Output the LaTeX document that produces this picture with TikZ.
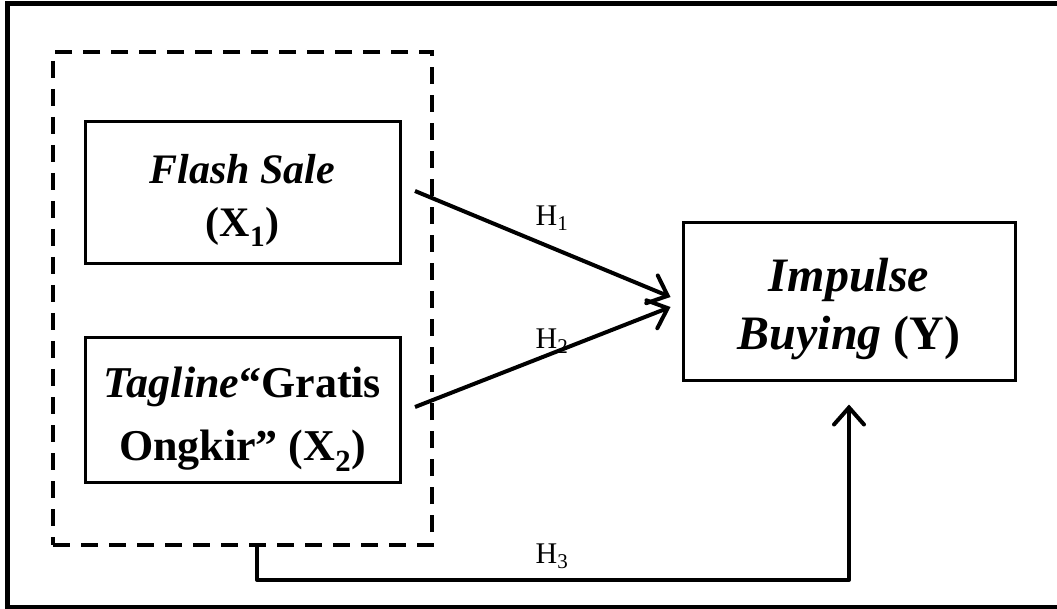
\documentclass[tikz,border=0pt]{standalone}
\usepackage{fontspec}
\setmainfont{Liberation Serif}
\usetikzlibrary{arrows.meta}

\begin{document}
\begin{tikzpicture}[x=1pt, y=-1pt, line width=3pt,
    varbox/.style={draw, line width=3pt, inner sep=0pt, align=center,
        minimum width=315pt, minimum height=142pt},
    link/.style={line width=4pt, line join=round,
        -{Straight Barb[length=17pt, width=30pt, line cap=round]}},
    hyp/.style={inner sep=0pt, font=\fontsize{30}{32}\selectfont}]
    \useasboundingbox (0,0) rectangle (1057,609);
    % outer frame
    \draw[line width=5pt] (1065,4) -- (7.5,4) -- (7.5,607) -- (1065,607);

    % independent variables
    \node[draw, line width=4pt, dash pattern=on 17pt off 11pt, inner sep=0pt,
        minimum width=379pt, minimum height=493pt] (group) at (242.5,298.5) {};
    \node[varbox, font=\fontsize{42}{53}\selectfont\bfseries] (flash) at (242.5,192.5)
        {\rule{0pt}{45pt}\textit{Flash Sale}\\(X\textsubscript{1})};
    \node[varbox, minimum height=144pt, font=\fontsize{44}{63}\selectfont\bfseries] (tagline) at (242.5,410)
        {\rule{0pt}{49pt}\textit{Tagline}“Gratis\\Ongkir” (X\textsubscript{2})};

    % dependent variable
    \node[varbox, minimum width=332pt, minimum height=157pt,
        font=\fontsize{48}{58}\selectfont\bfseries] (impulse) at (849,301.5)
        {\rule{0pt}{49pt}\textit{Impulse}\\\textit{Buying} (Y)};

    % hypotheses
    \coordinate (h1from) at (415,191);
    \coordinate (h2from) at (415,407);
    \draw[link] (h1from) -- ([xshift=-11pt, yshift=4.5pt]impulse.west);
    \draw[link] (h2from) -- ([xshift=-11pt, yshift=-5.5pt]impulse.west);
    \draw[link] ([xshift=14.5pt]group.south) -- ++(0,33) -| ([yshift=-23pt]impulse.south);

    \node[hyp] (hone) at (552,218) {H\textsubscript{1}};
    \node[hyp] (htwo) at (552,341) {H\textsubscript{2}};
    \node[hyp] (hthree) at (552,556) {H\textsubscript{3}};
\end{tikzpicture}
\end{document}
